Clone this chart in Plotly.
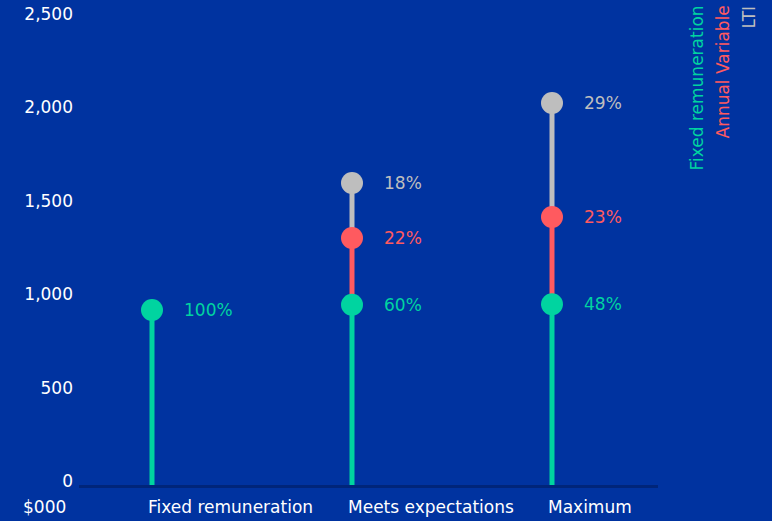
import plotly.graph_objects as go

categories = ["Fixed remuneration", "Meets expectations", "Maximum"]
fixed_vals = [937, 965, 968]
variable_vals = [None, 1322, 1435]
lti_vals = [None, 1617, 2045]
fixed_pct = ["100%", "60%", "48%"]
variable_pct = [None, "22%", "23%"]
lti_pct = [None, "18%", "29%"]
y_ticks = [0, 500, 1000, 1500, 2000, 2500]
y_tick_labels = ["0", "500", "1,000", "1,500", "2,000", "2,500"]
legend_names = ["Fixed remuneration", "Annual Variable", "LTI"]

BG = "#0033A0"
GREEN = "#00D4A0"
RED = "#FF5A5F"
GREY = "#BEBEBE"
colors = [GREEN, RED, GREY]
FONT = "DejaVu Sans"
FS = 17

fig = go.Figure()
xs = list(range(len(categories)))

# stems
for i in xs:
    fig.add_trace(go.Scatter(x=[i, i], y=[0, fixed_vals[i]], mode="lines",
                             line=dict(color=GREEN, width=5), showlegend=False, hoverinfo="skip"))
    if variable_vals[i] is not None:
        fig.add_trace(go.Scatter(x=[i, i], y=[fixed_vals[i], variable_vals[i]], mode="lines",
                                 line=dict(color=RED, width=5), showlegend=False, hoverinfo="skip"))
    if lti_vals[i] is not None:
        fig.add_trace(go.Scatter(x=[i, i], y=[variable_vals[i], lti_vals[i]], mode="lines",
                                 line=dict(color=GREY, width=5), showlegend=False, hoverinfo="skip"))

series = [(fixed_vals, fixed_pct, GREEN), (variable_vals, variable_pct, RED), (lti_vals, lti_pct, GREY)]
for vals, pcts, col in series:
    px = [i for i in xs if vals[i] is not None]
    py = [vals[i] for i in px]
    fig.add_trace(go.Scatter(x=px, y=py, mode="markers",
                             marker=dict(color=col, size=22, line=dict(width=0)),
                             showlegend=False))
    for i in px:
        fig.add_annotation(x=i, y=vals[i], text=pcts[i], showarrow=False,
                           xanchor="left", yanchor="middle", xshift=30,
                           font=dict(family=FONT, size=FS, color=col))

# category labels, left aligned at stem
for i in xs:
    fig.add_annotation(x=i, y=0, yref="paper", text=categories[i], showarrow=False,
                       xanchor="left", yanchor="top", xshift=-6, yshift=-10,
                       font=dict(family=FONT, size=FS, color="white"))

fig.add_annotation(x=0, xref="paper", y=0, yref="paper", text="$000", showarrow=False,
                   xanchor="right", yanchor="top", xshift=-11, yshift=-10,
                   font=dict(family=FONT, size=FS, color="white"))

# vertical legend
for j, (name, col) in enumerate(zip(legend_names, colors)):
    fig.add_annotation(x=1, xref="paper", y=1, yref="paper", text=name, showarrow=False,
                       textangle=-90, xanchor="center", yanchor="top",
                       xshift=38 + 26 * j, yshift=14,
                       font=dict(family=FONT, size=FS, color=col))

fig.update_layout(
    width=772, height=521,
    margin=dict(l=79, r=114, t=18, b=36),
    paper_bgcolor=BG, plot_bgcolor=BG,
    font=dict(family=FONT, size=FS, color="white"),
    showlegend=False,
    xaxis=dict(range=[-0.365, 2.53], showgrid=False, zeroline=False, showticklabels=False,
               showline=True, linecolor="#00257A", linewidth=3, ticks="", automargin=False),
    yaxis=dict(range=[0, 2500], tickvals=y_ticks, ticktext=y_tick_labels,
               showgrid=False, zeroline=False, showline=False, ticks="", automargin=False,
               tickfont=dict(family=FONT, size=FS, color="white"),
               ticklabelstandoff=5, ticklabelshift=-4, ticklabeloverflow="allow"),
)

fig.write_html("out.html", config={"displayModeBar": False},
               post_script="document.body.style.margin='0';document.body.style.overflow='hidden';")
